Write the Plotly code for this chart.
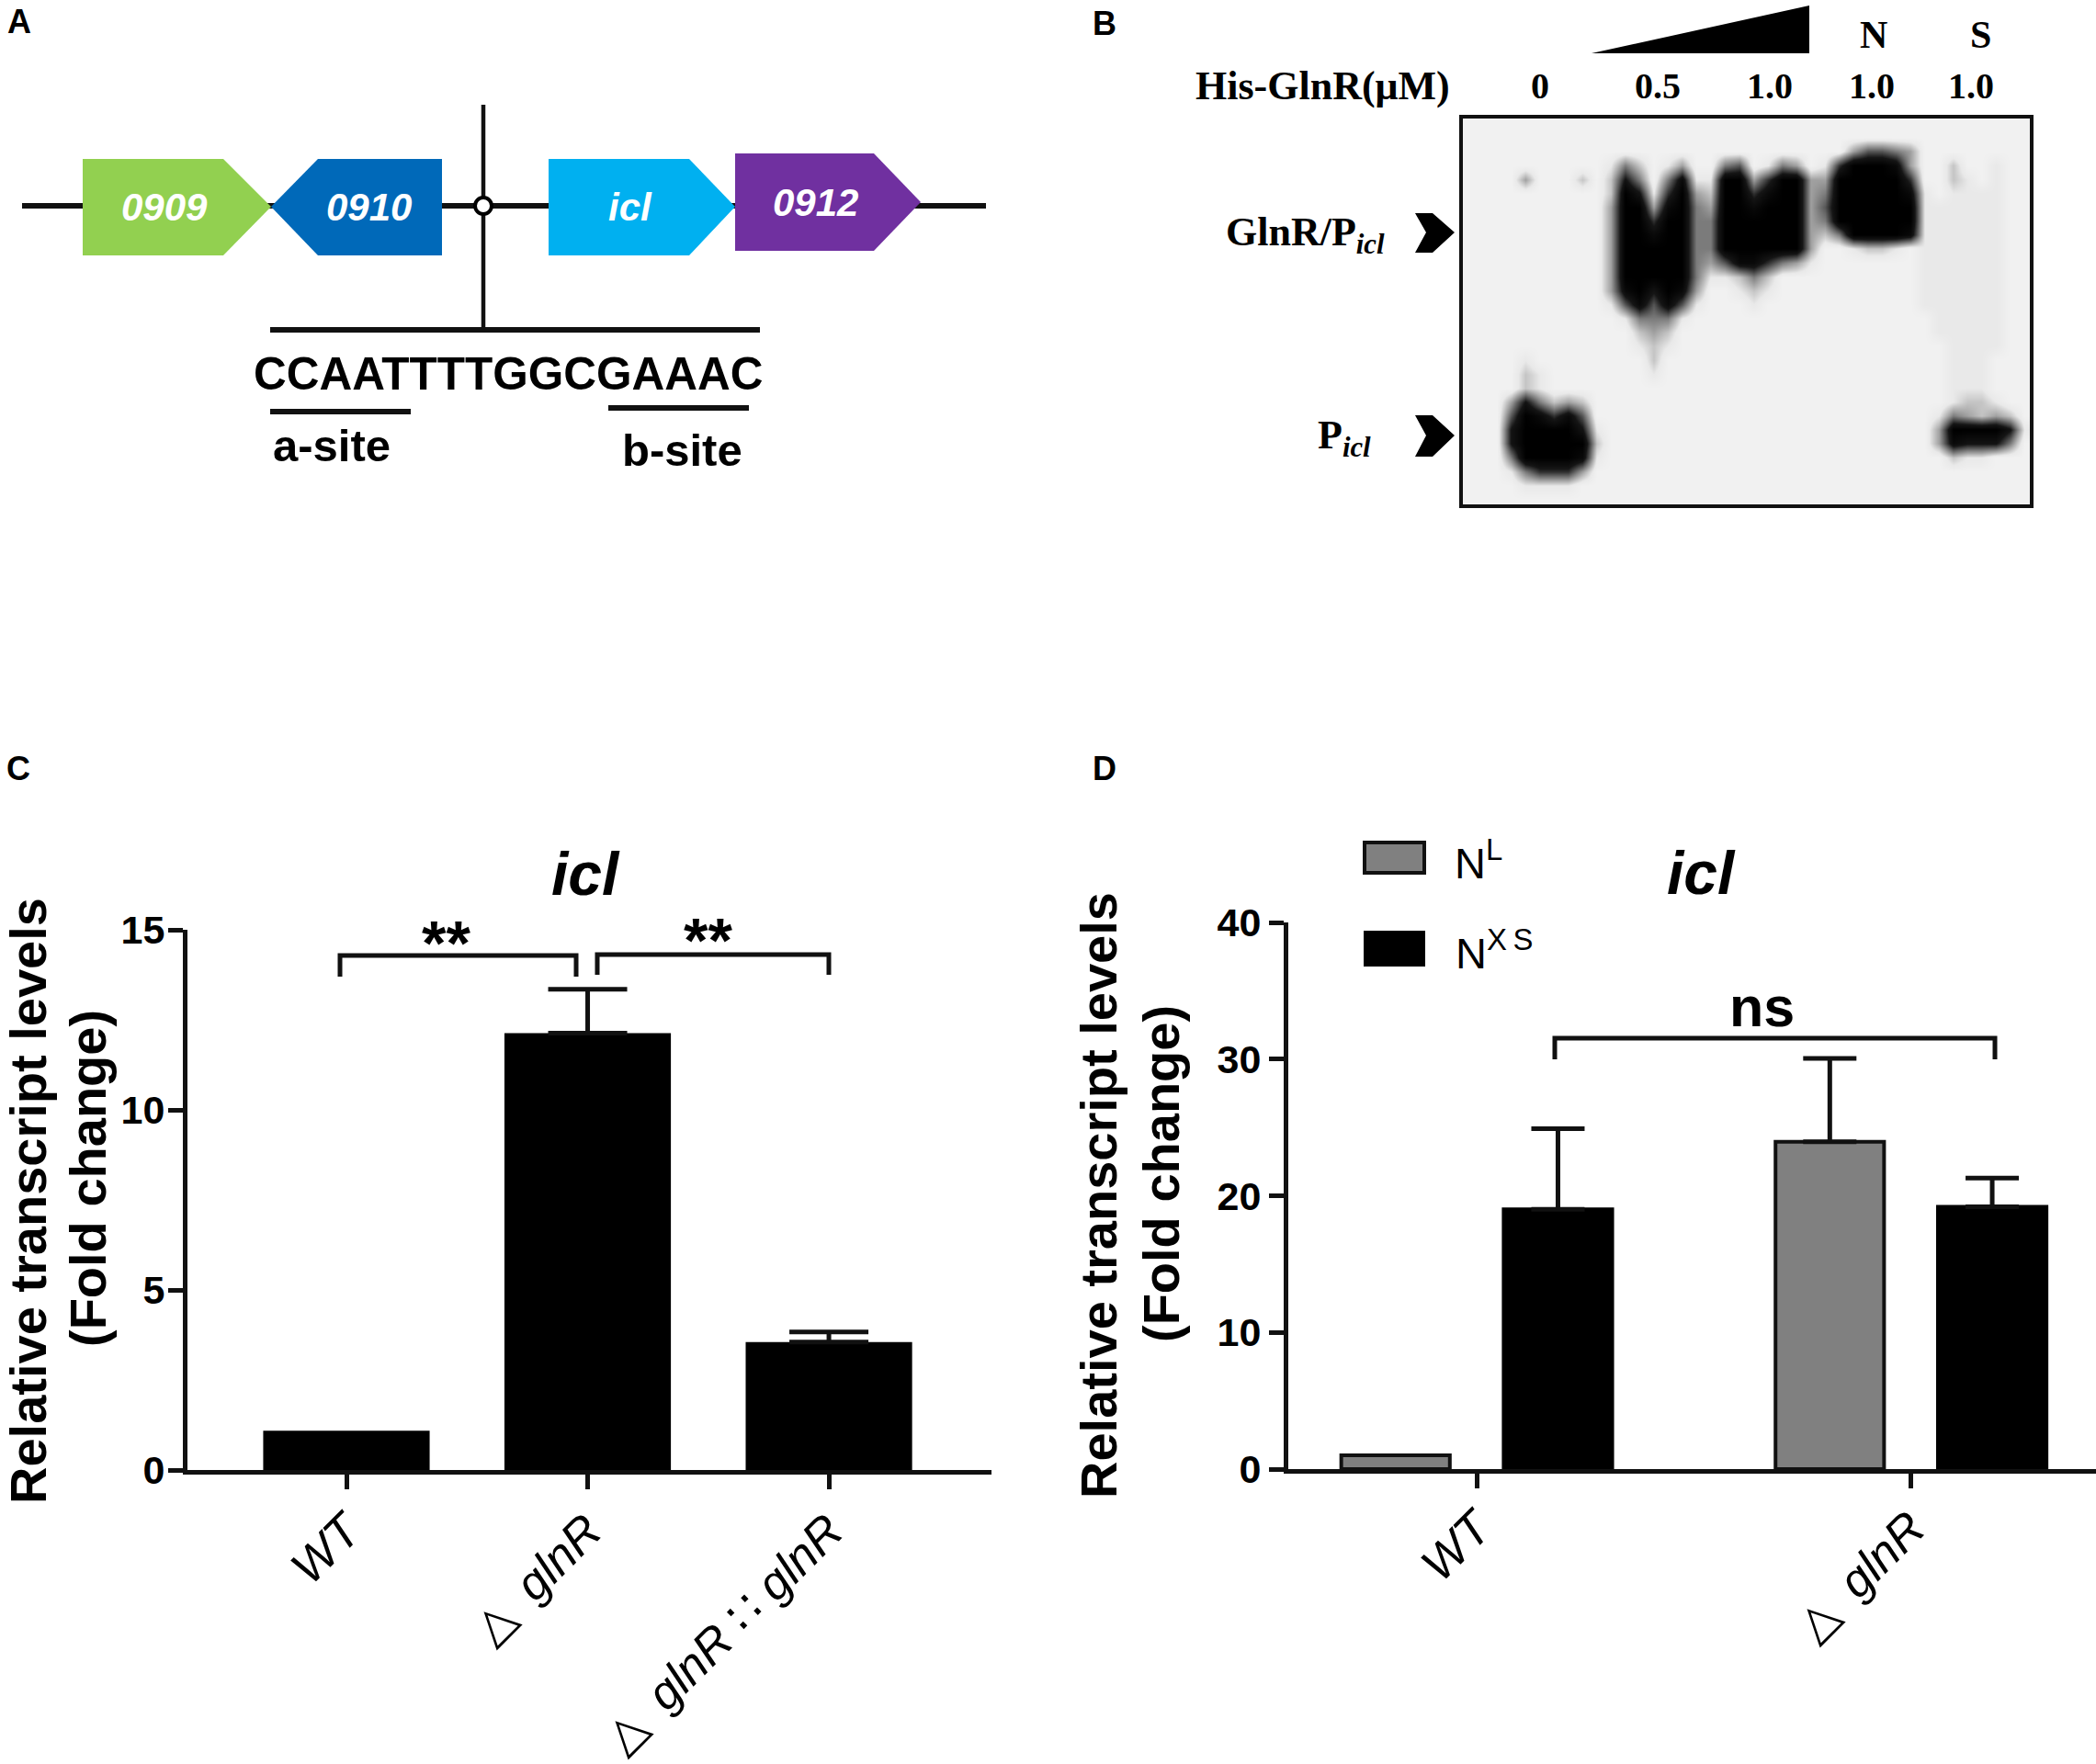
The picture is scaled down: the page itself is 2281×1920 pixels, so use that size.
import plotly.graph_objects as go

W, H = 2281, 1920
SANS = "Liberation Sans"
SERIF = "Liberation Serif"
INK = "#111111"

# panel C
strains_c = ["<i>WT</i>", "△\u2002<i>glnR</i>", "△\u2002<i>glnR</i> ∷ <i>glnR</i>"]
levels_c = [1.09, 12.13, 3.55]
errors_c = ["-", 1.22, 0.28]  # "-" = no error bar drawn
errors_c_low = ["-", 0, 0]

# panel D
strains_d = ["<i>WT</i>", "△\u2002<i>glnR</i>"]
levels_nl = [1.0, 23.95]
errors_nl = ["-", 6.1]
errors_nl_low = ["-", 0]
levels_nxs = [19.0, 19.2]
errors_nxs = [5.9, 2.1]

gel_rows = [
    "0000000000000000000000000000000000000000",
    "0000000000000000000000000000000000000000",
    "0000000000000000000000000003554300000000",
    "0000000000142013004501430169998300200100",
    "0000300020274048119936993399999600210100",
    "0000000000297169329968993499999810111100",
    "0000000000399389439989993599999911111100",
    "0000000000399699449999993499999911111100",
    "0000000000399899449999993249999811111100",
    "0000000000399999449999993001221011111100",
    "0000000000399999435886431000000011111100",
    "0000000000399999411242000000000011111100",
    "0000000000389798300121000000000011111100",
    "0000000000158585100010000000000011111100",
    "0000000000014441000000000000000001111100",
    "0000000000002320000000000000000001111100",
    "0000000000001210000000000000000000111100",
    "0000100000000200000000000000000000111000",
    "0000210000000100000000000000000000111000",
    "0000210000000000000000000000000000111000",
    "0003742320000000000000000000000000122100",
    "0005986850000000000000000000000001432320",
    "0007999971000000000000000000000003999971",
    "0007999992000000000000000000000003877740",
    "0004999981000000000000000000000000211000",
    "0001466630000000000000000000000000000000",
    "0000111100000000000000000000000000000000",
    "0000000000000000000000000000000000000000",
]
gel_z = [[int(c) for c in row] for row in gel_rows]


def fx(p):
    return p / W


def fy(p):
    return 1 - p / H


shapes = []
notes = []


def poly(points, fill, line=None, width=0):
    path = "M " + " L ".join(f"{fx(x):.5f},{fy(y):.5f}" for x, y in points)
    if fill:
        path += " Z"
    shapes.append(dict(type="path", xref="paper", yref="paper", path=path,
                       fillcolor=fill if fill else "rgba(0,0,0,0)",
                       line=dict(color=line if line else fill, width=width)))


def seg(points, width=5, color=INK):
    poly(points, None, color, width)


def note(text, x, y, size, family=SANS, color="black", angle=0):
    notes.append(dict(text=text, x=fx(x), y=fy(y), xref="paper", yref="paper",
                      xanchor="center", yanchor="middle", showarrow=False, textangle=angle,
                      font=dict(family=family, size=size, color=color)))


fig = go.Figure()

fig.add_trace(go.Bar(x=strains_c, y=levels_c, width=0.69, marker=dict(color="black", line=dict(width=0)),
                     error_y=dict(type="data", symmetric=False, array=errors_c, arrayminus=errors_c_low,
                                  color=INK, thickness=5, width=43),
                     xaxis="x", yaxis="y", showlegend=False))

fig.add_trace(go.Bar(x=strains_d, y=levels_nl, name="NL", width=0.25, offset=-0.312,
                     marker=dict(color="#808080", line=dict(color=INK, width=4)),
                     error_y=dict(type="data", symmetric=False, array=errors_nl, arrayminus=errors_nl_low,
                                  color=INK, thickness=5, width=29),
                     xaxis="x2", yaxis="y2", showlegend=False))
fig.add_trace(go.Bar(x=strains_d, y=levels_nxs, name="NXS", width=0.25, offset=0.062,
                     marker=dict(color="black", line=dict(color="black", width=4)),
                     error_y=dict(type="data", symmetric=False, array=errors_nxs, arrayminus=[0, 0],
                                  color=INK, thickness=5, width=29),
                     xaxis="x2", yaxis="y2", showlegend=False))

fig.add_trace(go.Heatmap(z=gel_z, zmin=0, zmax=9, zsmooth="best", showscale=False, hoverinfo="skip",
                         colorscale=[[0, "#f1f1f1"], [0.11, "#e9e9e9"], [0.4, "#8a8a8a"], [0.75, "#151515"], [1, "black"]],
                         xaxis="x3", yaxis="y3"))

# panel A
seg([(24, 224), (1073, 224)], 6)
seg([(526, 114), (526, 359)], 4.5)
poly([(90, 173), (243, 173), (295, 225), (243, 278), (90, 278)], "#92d050")
poly([(295, 225), (346, 173), (481, 173), (481, 278), (346, 278)], "#0069b9")
poly([(597, 173), (750, 173), (800, 225), (750, 278), (597, 278)], "#00b0f0")
poly([(800, 167), (951, 167), (1002, 220), (951, 273), (800, 273)], "#7030a0")
shapes.append(dict(type="circle", xref="paper", yref="paper", x0=fx(517), x1=fx(535), y0=fy(233), y1=fy(215),
                   fillcolor="white", line=dict(color="black", width=4)))
seg([(294, 359), (827, 359)], 6)
seg([(294, 448), (447, 448)], 6)
seg([(662, 444), (815, 444)], 6)
note("<b><i>0909</i></b>", 179, 225, 42, color="white")
note("<b><i>0910</i></b>", 401, 225, 42, color="white")
note("<b><i>icl</i></b>", 686, 225, 42, color="white")
note("<b><i>0912</i></b>", 887, 220, 42, color="white")
note("<b>CCAATTTTGGCGAAAC</b>", 553, 407, 49.5)
note("<b>a-site</b>", 361, 485, 49)
note("<b>b-site</b>", 742, 490, 49)

# panel B
poly([(1732, 58), (1969, 58), (1969, 6)], "black")
note("<b>N</b>", 2039, 38, 42, SERIF)
note("<b>S</b>", 2155, 38, 42, SERIF)
note("<b>His-GlnR(μM)</b>", 1439, 94, 44, SERIF)
for label, x in zip(["0", "0.5", "1.0", "1.0", "1.0"], [1676, 1804, 1926, 2037, 2145]):
    note(f"<b>{label}</b>", x, 94, 40, SERIF)
note("<b>GlnR/P<sub><i>icl</i></sub></b>", 1420, 255, 44, SERIF)
note("<b>P<sub><i>icl</i></sub></b>", 1463, 476, 44, SERIF)
poly([(1540, 232), (1559, 232), (1583, 253), (1559, 275), (1540, 275), (1552, 253)], "black")
poly([(1540, 452), (1559, 452), (1583, 474), (1559, 497), (1540, 497), (1552, 474)], "black")
shapes.append(dict(type="rect", xref="paper", yref="paper", x0=fx(1590), x1=fx(2211), y0=fy(551), y1=fy(127),
                   fillcolor="rgba(0,0,0,0)", line=dict(color=INK, width=4)))

# panel letters
note("<b>A</b>", 21, 24, 36)
note("<b>B</b>", 1202, 25, 36)
note("<b>C</b>", 20, 836, 36)
note("<b>D</b>", 1202, 836, 36)

# panel C text and brackets
note("<b><i>icl</i></b>", 637, 951, 66)
note("<b>Relative transcript levels</b>", 30, 1307, 56, angle=-90)
note("<b>(Fold change)</b>", 95, 1283, 56, angle=-90)
seg([(370, 1063), (370, 1040), (627, 1040), (627, 1063)])
seg([(650, 1061), (650, 1039), (902, 1039), (902, 1061)])
note("<b>**</b>", 485, 1026, 68)
note("<b>**</b>", 770, 1023, 68)

# panel D text, bracket and key
note("<b><i>icl</i></b>", 1851, 950, 66)
note("<b>Relative transcript levels</b>", 1195, 1301, 56, angle=-90)
note("<b>(Fold change)</b>", 1263, 1278, 56, angle=-90)
seg([(1692, 1153), (1692, 1130), (2171, 1130), (2171, 1153)])
note("<b>ns</b>", 1917, 1096, 61)
shapes.append(dict(type="rect", xref="paper", yref="paper", x0=fx(1485), x1=fx(1550), y0=fy(950), y1=fy(917),
                   fillcolor="#808080", line=dict(color=INK, width=4)))
shapes.append(dict(type="rect", xref="paper", yref="paper", x0=fx(1485), x1=fx(1550), y0=fy(1051), y1=fy(1014),
                   fillcolor="black", line=dict(color="black", width=2)))
note("N<sup>L</sup>", 1609, 936, 47)
note("N<sup>X\u2009S</sup>", 1626, 1034, 47)

axis_style = dict(showline=True, linecolor=INK, linewidth=5, ticks="outside", tickcolor=INK, tickwidth=5,
                  showgrid=False, zeroline=False, fixedrange=True, automargin=False)

fig.update_layout(
    template="none",
    width=W, height=H, autosize=False, margin=dict(l=0, r=0, t=0, b=0, pad=0),
    paper_bgcolor="white", plot_bgcolor="white", shapes=shapes, annotations=notes, showlegend=False,
    xaxis=dict(domain=[fx(204), fx(1079)], range=[-0.659, 2.674], anchor="y", ticklen=16, tickangle=-45,
               ticklabelstandoff=-6, tickfont=dict(family=SANS, size=52, color="black"), **axis_style),
    yaxis=dict(domain=[fy(1600), fy(1012)], range=[0, 15], anchor="x", ticklen=16, tickvals=[0, 5, 10, 15],
               ticklabelstandoff=-5, tickfont=dict(family=SANS, size=43, color="black", weight="bold"), **axis_style),
    xaxis2=dict(domain=[fx(1402), 1], range=[-0.434, 1.426], anchor="y2", ticklen=16, tickangle=-45,
                ticklabelstandoff=-8, tickfont=dict(family=SANS, size=52, color="black"), **axis_style),
    yaxis2=dict(domain=[fy(1599), fy(1004)], range=[0, 40], anchor="x2", ticklen=16, tickvals=[0, 10, 20, 30, 40],
                tickfont=dict(family=SANS, size=43, color="black", weight="bold"), **axis_style),
    xaxis3=dict(domain=[fx(1590), fx(2211)], range=[-0.5, 39.5], anchor="y3", visible=False, fixedrange=True, automargin=False),
    yaxis3=dict(domain=[fy(551), fy(127)], range=[27.5, -0.5], anchor="x3", visible=False, fixedrange=True, automargin=False),
)

fig.write_html("out.html", config=dict(displayModeBar=False), post_script="document.body.style.margin='0'")
